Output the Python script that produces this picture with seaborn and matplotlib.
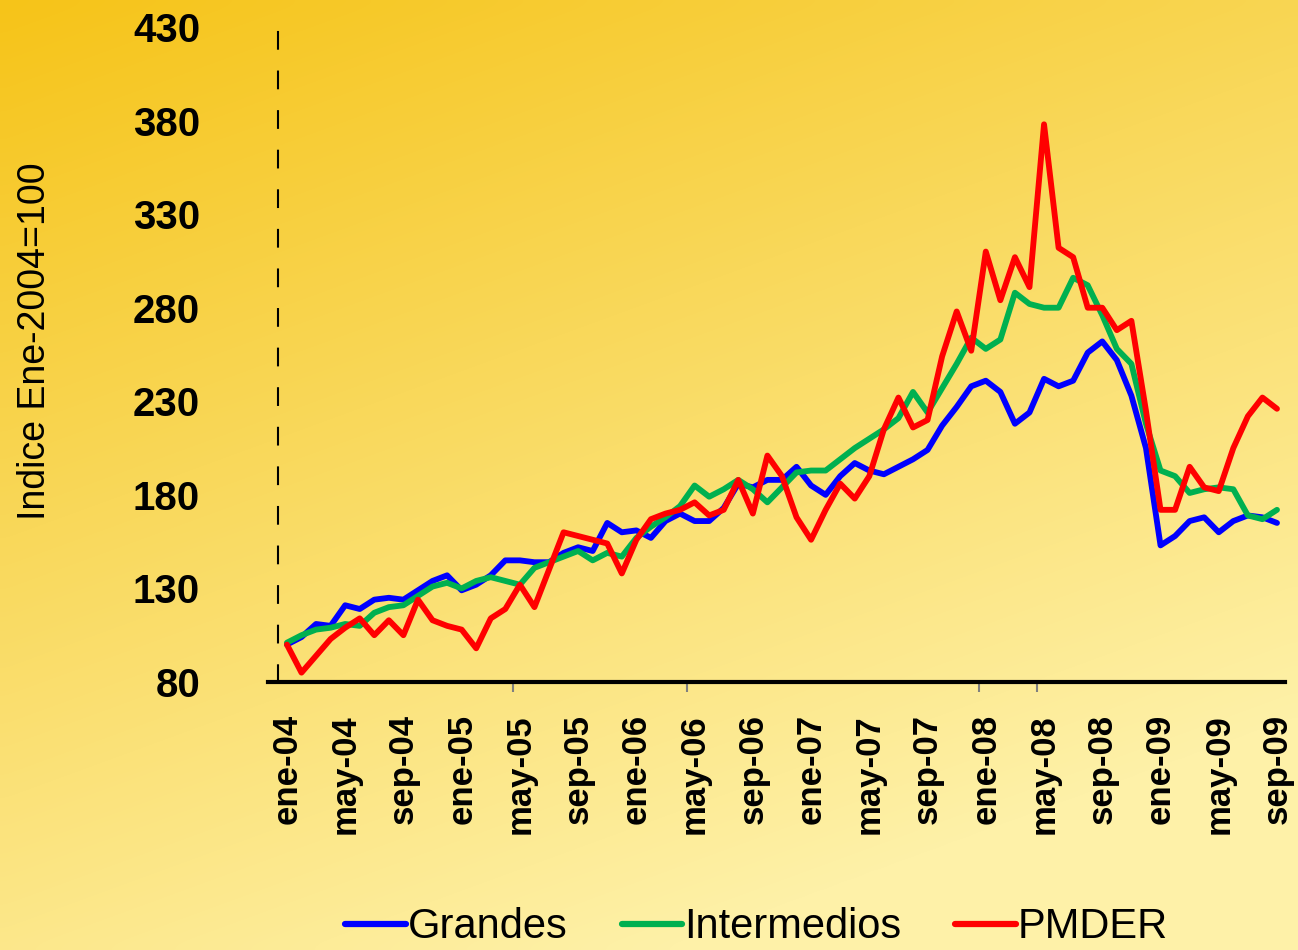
import numpy as np
import pandas as pd
import seaborn as sns
import matplotlib
matplotlib.use('Agg')
import matplotlib.pyplot as plt
from matplotlib.ticker import FixedLocator
from matplotlib.colors import LinearSegmentedColormap

# etiquetas del eje x (cada 4 meses, ene-04 .. sep-09)
tick_labels = ['ene-04', 'may-04', 'sep-04', 'ene-05', 'may-05', 'sep-05',
               'ene-06', 'may-06', 'sep-06', 'ene-07', 'may-07', 'sep-07',
               'ene-08', 'may-08', 'sep-08', 'ene-09', 'may-09', 'sep-09']
series_names = ['Grandes', 'Intermedios', 'PMDER']
series_colors = ['#0000FF', '#00B050', '#FF0000']

# valores mensuales, indice ene-2004 = 100
grandes = [100, 104, 111, 110, 121, 119, 124, 125, 124, 129,
           134, 137, 129, 132, 137, 145, 145, 144, 144, 149,
           152, 150, 165, 160, 161, 157, 166, 170, 166, 166,
           173, 186, 184, 188, 188, 195, 185, 180, 190, 197,
           193, 191, 195, 199, 204, 217, 227, 238, 241, 235,
           218, 224, 242, 238, 241, 256, 262, 252, 233, 205,
           153, 158, 166, 168, 160, 166, 169, 168, 165]
intermedios = [101, 105, 108, 109, 111, 110, 117, 120, 121, 126,
               131, 133, 130, 134, 136, 134, 132, 141, 144, 147,
               150, 145, 149, 147, 157, 163, 168, 174, 185, 179,
               183, 188, 183, 176, 184, 192, 193, 193, 199, 205,
               210, 215, 221, 235, 224, 237, 250, 264, 258, 263,
               288, 282, 280, 280, 296, 292, 276, 258, 250, 218,
               193, 190, 181, 183, 184, 183, 169, 167, 172]
pmder = [100, 85, 94, 103, 109, 114, 105, 113, 105, 124,
         113, 110, 108, 98, 114, 119, 132, 120, 140, 160,
         158, 156, 154, 138, 156, 167, 170, 172, 176, 169,
         172, 188, 170, 201, 190, 168, 156, 172, 186, 178,
         190, 215, 232, 216, 220, 254, 278, 257, 310, 284,
         307, 291, 378, 312, 307, 280, 280, 268, 273, 225,
         172, 172, 195, 184, 182, 205, 222, 232, 226]

# marcas sueltas del eje x en la imagen original
x_minor_marks = [15.5, 27.5, 47.5, 51.5]


def build_df():
    mes = np.arange(len(grandes))
    frames = []
    for name, vals in zip(series_names, [grandes, intermedios, pmder]):
        frames.append(pd.DataFrame({'mes': mes, 'indice': vals, 'serie': name}))
    return pd.concat(frames, ignore_index=True)


def draw_background(fig):
    bg = fig.add_axes([0, 0, 1, 1], zorder=-10)
    h, w = 95, 130
    yy, xx = np.mgrid[0:h, 0:w]
    t = np.clip(0.40 * xx / w + 0.80 * yy / h, 0, 1)
    cmap = LinearSegmentedColormap.from_list(
        'fondo', [(0.0, '#F6C419'), (0.45, '#F9D85A'), (1.0, '#FEF1A8')])
    bg.imshow(t, cmap=cmap, aspect='auto', interpolation='bicubic',
              extent=[0, 1, 0, 1], vmin=0, vmax=1)
    bg.set_axis_off()


df = build_df()

sns.set_style('white')
plt.rcParams['font.family'] = ['Liberation Sans', 'DejaVu Sans']
plt.rcParams['text.color'] = 'black'
plt.rcParams['axes.labelcolor'] = 'black'
plt.rcParams['xtick.color'] = 'black'
plt.rcParams['ytick.color'] = 'black'

fig = plt.figure(figsize=(12.98, 9.5), dpi=100)
fig.patch.set_facecolor('#F9D85A')
draw_background(fig)

ax = fig.add_axes([268 / 1298, 1 - 682 / 950, 1017 / 1298, 655 / 950])
ax.set_facecolor('none')

sns.lineplot(data=df, x='mes', y='indice', hue='serie',
             palette=dict(zip(series_names, series_colors)),
             linewidth=4.2, ax=ax)

ax.set_xlim(-1.3, 68.55)
ax.set_ylim(80, 430)

# ejes
sns.despine(ax=ax)
ax.spines['left'].set_position(('data', -0.62))
ax.spines['left'].set_linestyle((0, (8, 11)))
ax.spines['left'].set_linewidth(1.5)
ax.spines['bottom'].set_linewidth(3)
ax.spines['bottom'].set_color('black')
ax.spines['left'].set_color('black')

ax.set_yticks(np.arange(80, 431, 50))
ax.yaxis.set_minor_locator(FixedLocator([380]))
ax.tick_params(axis='y', which='major', left=True, length=0, pad=56)
ax.tick_params(axis='y', which='minor', left=True, length=6.5, width=1.5,
               color='black')
for lab in ax.get_yticklabels():
    lab.set_fontsize(29)
    lab.set_fontweight('bold')

ax.set_xticks(np.arange(0, len(grandes), 4))
ax.set_xticklabels(tick_labels, rotation=90, fontsize=25, fontweight='bold')
ax.xaxis.set_minor_locator(FixedLocator(x_minor_marks))
ax.tick_params(axis='x', which='major', bottom=True, length=0, pad=23)
ax.tick_params(axis='x', which='minor', bottom=True, length=7, width=1.5,
               color='#808080')

ax.set_xlabel('')
ax.set_ylabel('Indice Ene-2004=100', fontsize=27)
ax.yaxis.label.set_va('center')
ax.yaxis.set_label_coords(-0.229, 0.52)

handles, labels = ax.get_legend_handles_labels()
leg = ax.legend(handles, labels, ncol=3, frameon=False, fontsize=30,
                loc='center', bbox_to_anchor=(0.583, 0.024),
                bbox_transform=fig.transFigure,
                handlelength=1.45, handletextpad=0.05, columnspacing=1.3)
for line in leg.get_lines():
    line.set_linewidth(4.5)

plt.savefig('out.png', dpi=100)
